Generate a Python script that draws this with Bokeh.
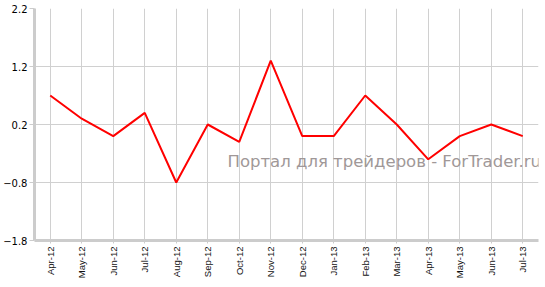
from math import pi
from bokeh.plotting import figure
from bokeh.models import FactorRange, Range1d, FixedTicker, Label
from bokeh.embed import file_html
from bokeh.resources import INLINE

months = ["Apr-12", "May-12", "Jun-12", "Jul-12", "Aug-12", "Sep-12", "Oct-12", "Nov-12",
          "Dec-12", "Jan-13", "Feb-13", "Mar-13", "Apr-13", "May-13", "Jun-13", "Jul-13"]
values = [0.7, 0.3, 0.0, 0.4, -0.8, 0.2, -0.1, 1.3,
          0.0, 0.0, 0.7, 0.2, -0.4, 0.0, 0.2, 0.0]
y_ticks = [-1.8, -0.8, 0.2, 1.2, 2.2]
watermark = "Портал для трейдеров - ForTrader.ru"

p = figure(width=545, height=287, x_range=FactorRange(factors=months),
           y_range=Range1d(-1.8, 2.2), output_backend="svg", toolbar_location=None,
           min_border_left=33, min_border_right=7, min_border_top=8, min_border_bottom=47)
p.outline_line_color = None
p.background_fill_color = "white"
p.border_fill_color = "white"

p.line(months, values, line_color="#ff0000", line_width=2)

p.yaxis.ticker = FixedTicker(ticks=y_ticks)
p.yaxis.minor_tick_line_color = None
p.yaxis.axis_line_color = "#cccccc"
p.yaxis.axis_line_width = 3
p.yaxis.major_tick_line_color = "#cccccc"
p.yaxis.major_tick_in = 0
p.yaxis.major_tick_out = 5
p.yaxis.major_label_standoff = 2
p.yaxis.major_label_text_font = "DejaVu Sans"
p.yaxis.major_label_text_font_size = "10px"
p.yaxis.major_label_text_color = "#000000"

p.xaxis.axis_line_color = "#cccccc"
p.xaxis.axis_line_width = 3
p.xaxis.major_tick_line_color = "#cccccc"
p.xaxis.major_tick_in = 0
p.xaxis.major_tick_out = 3
p.xaxis.major_label_standoff = 3
p.xaxis.major_label_orientation = pi / 2
p.xaxis.major_label_text_font = "Liberation Sans"
p.xaxis.major_label_text_font_size = "9.5px"
p.xaxis.major_label_text_color = "#111111"

p.xgrid.grid_line_color = "#d0d0d0"
p.ygrid.grid_line_color = "#d0d0d0"
p.xgrid.grid_line_width = 1
p.ygrid.grid_line_width = 1

lbl = Label(x=193, y=79, x_units="screen", y_units="screen", text=watermark,
            text_font="DejaVu Sans", text_font_size="16.5px", text_color="#a09898",
            text_baseline="alphabetic")
p.add_layout(lbl)

open("out.html", "w").write(file_html(p, INLINE))
